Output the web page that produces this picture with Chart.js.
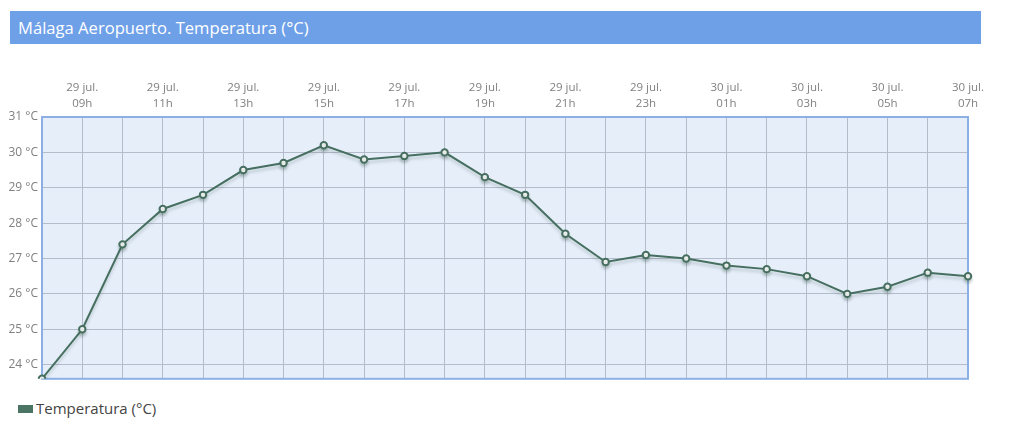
<!DOCTYPE html>
<html>
<head>
<meta charset="utf-8">
<script src="https://cdn.jsdelivr.net/npm/chart.js@4/dist/chart.umd.min.js"></script>
<style>
  body { margin: 0; background: #fff; font-family: "Open Sans", sans-serif; }
  #title {
    position: absolute; left: 10px; top: 11px; width: 971px; height: 33px;
    background: #6ea0e8; color: #fff; font-size: 16.6px; line-height: 33px;
    padding-left: 8px; box-sizing: border-box;
  }
  #wrap { position: absolute; left: 0; top: 60px; width: 1000px; height: 330px; }
  #legend {
    position: absolute; left: 18px; top: 398px; font-size: 15px; color: #444;
  }
  #legend span.box {
    display: inline-block; width: 15px; height: 8px; background: #4a7565;
    margin-right: 3px; vertical-align: 1px;
  }
</style>
</head>
<body>
<div id="title">Málaga Aeropuerto. Temperatura (°C)</div>
<div id="wrap"><canvas id="tempChart"></canvas></div>
<div id="legend"><span class="box"></span>Temperatura (°C)</div>
<script>
const dayLabels = ['29 jul.', '29 jul.', '29 jul.', '29 jul.', '29 jul.', '29 jul.', '29 jul.', '29 jul.',
  '29 jul.', '29 jul.', '29 jul.', '29 jul.', '29 jul.', '29 jul.', '29 jul.', '29 jul.',
  '30 jul.', '30 jul.', '30 jul.', '30 jul.', '30 jul.', '30 jul.', '30 jul.', '30 jul.'];
const hourLabels = ['08h', '09h', '10h', '11h', '12h', '13h', '14h', '15h', '16h', '17h', '18h', '19h',
  '20h', '21h', '22h', '23h', '00h', '01h', '02h', '03h', '04h', '05h', '06h', '07h'];
const temps = [23.6, 25.0, 27.4, 28.4, 28.8, 29.5, 29.7, 30.2, 29.8, 29.9, 30.0, 29.3,
  28.8, 27.7, 26.9, 27.1, 27.0, 26.8, 26.7, 26.5, 26.0, 26.2, 26.6, 26.5];
const yMin = 23.6;
const yMax = 31;

const areaPlugin = {
  id: 'area',
  beforeDraw(chart) {
    const { ctx, chartArea: a } = chart;
    ctx.save();
    ctx.fillStyle = '#e6eefa';
    ctx.fillRect(a.left, a.top, a.right - a.left, a.bottom - a.top);
    ctx.restore();
  },
  beforeDatasetsDraw(chart) {
    const { ctx, chartArea: a } = chart;
    ctx.save();
    ctx.strokeStyle = '#8cb0e6';
    ctx.lineWidth = 2;
    ctx.strokeRect(a.left, a.top, a.right - a.left, a.bottom - a.top);
    ctx.restore();
  },
  beforeDatasetDraw(chart) {
    const ctx = chart.ctx;
    ctx.save();
    ctx.shadowColor = 'rgba(60, 90, 80, 0.25)';
    ctx.shadowOffsetY = 3;
    ctx.shadowBlur = 3;
  },
  afterDatasetDraw(chart) {
    chart.ctx.restore();
  }
};

new Chart(document.getElementById('tempChart'), {
  type: 'line',
  data: {
    labels: hourLabels,
    datasets: [{
      label: 'Temperatura (°C)',
      data: temps,
      borderColor: '#466f60',
      borderWidth: 2,
      tension: 0,
      pointRadius: 3.2,
      pointBorderWidth: 2,
      pointBackgroundColor: '#ffffff',
      pointBorderColor: '#466f60',
      fill: false
    }]
  },
  options: {
    responsive: true,
    maintainAspectRatio: false,
    animation: false,
    layout: { padding: { left: 0, right: 32, top: 0, bottom: 11 } },
    plugins: { legend: { display: false }, tooltip: { enabled: false } },
    scales: {
      x: {
        position: 'top',
        offset: false,
        grid: { color: '#b4bccb', drawTicks: false },
        border: { display: false },
        afterFit(scale) { scale.height = 57; },
        ticks: {
          autoSkip: false,
          maxRotation: 0,
          padding: 5,
          color: '#808080',
          font: { family: 'Open Sans', size: 11.5, lineHeight: 1.4 },
          callback(v, i) { return i % 2 === 1 ? [dayLabels[i], hourLabels[i]] : ''; }
        }
      },
      y: {
        min: yMin,
        max: yMax,
        grid: { color: '#b4bccb', drawTicks: false },
        border: { display: false },
        afterFit(scale) { scale.width = 42; },
        ticks: {
          stepSize: 1,
          includeBounds: false,
          padding: 4,
          color: '#808080',
          font: { family: 'Open Sans', size: 12 },
          callback(v) { return v + ' °C'; }
        }
      }
    }
  },
  plugins: [areaPlugin]
});
</script>
</body>
</html>
